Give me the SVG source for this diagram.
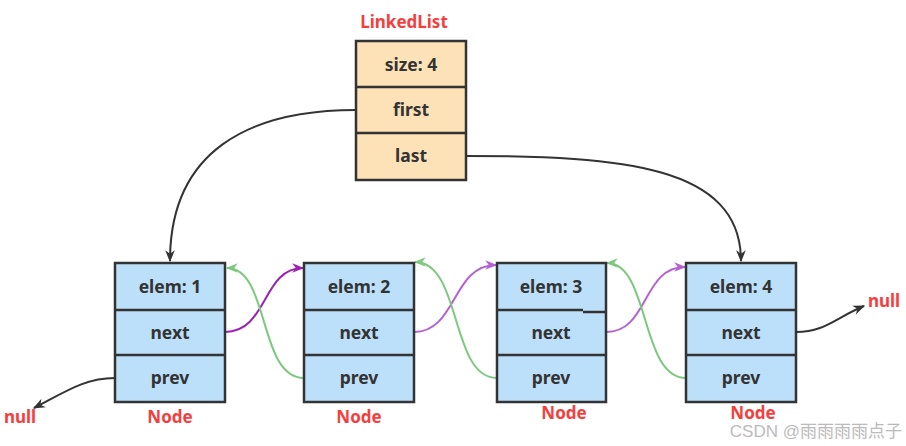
<svg xmlns="http://www.w3.org/2000/svg" width="906" height="446" viewBox="0 0 906 446">
<style>
.box{stroke:#333;stroke-width:2.5}
.ll{fill:#fde2b8}
.nd{fill:#bde0fa}
.t{font-family:"Noto Sans","Open Sans",sans-serif;font-weight:bold;font-size:17.5px;fill:#333;text-anchor:middle}
.r{font-family:"Noto Sans","Open Sans",sans-serif;font-weight:bold;font-size:17px;fill:#f53e3e;text-anchor:middle}
.c{fill:none;stroke-width:2}
.k{stroke:#333}
.p1{stroke:#9b22b5}
.p{stroke:#b561d4}
.g{stroke:#7cc87c}
</style>
<defs>
<marker id="ak" viewBox="0 0 10 10" refX="9" refY="5" markerWidth="12" markerHeight="12" orient="auto" markerUnits="userSpaceOnUse"><path d="M0,1L10,5L0,9L3,5z" fill="#333"/></marker>
<marker id="ap1" viewBox="0 0 10 10" refX="9" refY="5" markerWidth="12" markerHeight="12" orient="auto" markerUnits="userSpaceOnUse"><path d="M0,1L10,5L0,9L3,5z" fill="#9b22b5"/></marker>
<marker id="ap" viewBox="0 0 10 10" refX="9" refY="5" markerWidth="12" markerHeight="12" orient="auto" markerUnits="userSpaceOnUse"><path d="M0,1L10,5L0,9L3,5z" fill="#b561d4"/></marker>
<marker id="ag" viewBox="0 0 10 10" refX="9" refY="5" markerWidth="12" markerHeight="12" orient="auto" markerUnits="userSpaceOnUse"><path d="M0,1L10,5L0,9L3,5z" fill="#7cc87c"/></marker>
</defs>
<rect width="906" height="446" fill="#fff"/>
<g id="connectors">
<path class="c k" d="M356,110 C250,110 170,150 170,261" marker-end="url(#ak)"/>
<path class="c k" d="M466,156 C620,156 741,165 741,261" marker-end="url(#ak)"/>
<path class="c p1" d="M225,332 C268,332 262,268 303,268" marker-end="url(#ap1)"/>
<path class="c g" d="M304,378 C258,378 270,268 227,268" marker-end="url(#ag)"/>
<path class="c p" d="M414,332 C457,332 452,265 496,265" marker-end="url(#ap)"/>
<path class="c g" d="M497,378 C450,378 462,262 415,262" marker-end="url(#ag)"/>
<path class="c p" d="M606,332 C649,332 642,267 685,267" marker-end="url(#ap)"/>
<path class="c g" d="M686,378 C640,378 650,263 607,263" marker-end="url(#ag)"/>
<path class="c k" d="M796,332 C825,332 835,318 864,306" marker-end="url(#ak)"/>
<path class="c k" d="M115,378 C85,378 65,392 34,408" marker-end="url(#ak)"/>
</g>
<g id="linkedlist">
<text class="r" x="404" y="28">LinkedList</text>
<rect class="box ll" x="356" y="41" width="110" height="139"/>
<line class="box" x1="356" y1="87" x2="466" y2="87"/>
<line class="box" x1="356" y1="133" x2="466" y2="133"/>
<text class="t" x="411" y="71">size: 4</text>
<text class="t" x="411" y="116">first</text>
<text class="t" x="411" y="162">last</text>
</g>
<g id="node1">
<rect class="box nd" x="115" y="263" width="110" height="139"/>
<line class="box" x1="115" y1="310" x2="225" y2="310"/>
<line class="box" x1="115" y1="355" x2="225" y2="355"/>
<text class="t" x="170" y="293">elem: 1</text>
<text class="t" x="170" y="339">next</text>
<text class="t" x="170" y="384">prev</text>
<text class="r" x="170" y="423">Node</text>
</g>
<g id="node2">
<rect class="box nd" x="304" y="263" width="110" height="139"/>
<line class="box" x1="304" y1="310" x2="414" y2="310"/>
<line class="box" x1="304" y1="355" x2="414" y2="355"/>
<text class="t" x="359" y="293">elem: 2</text>
<text class="t" x="359" y="339">next</text>
<text class="t" x="359" y="384">prev</text>
<text class="r" x="359" y="423">Node</text>
</g>
<g id="node3">
<rect class="box nd" x="497" y="263" width="109" height="139"/>
<line class="box" x1="497" y1="310" x2="583" y2="310"/>
<line class="box" x1="583" y1="312" x2="606" y2="312"/>
<line class="box" x1="497" y1="355" x2="606" y2="355"/>
<text class="t" x="551" y="293">elem: 3</text>
<text class="t" x="551" y="339">next</text>
<text class="t" x="551" y="384">prev</text>
<text class="r" x="564" y="419">Node</text>
</g>
<g id="node4">
<rect class="box nd" x="686" y="263" width="110" height="139"/>
<line class="box" x1="686" y1="310" x2="796" y2="310"/>
<line class="box" x1="686" y1="355" x2="796" y2="355"/>
<text class="t" x="741" y="293">elem: 4</text>
<text class="t" x="741" y="339">next</text>
<text class="t" x="741" y="384">prev</text>
<text class="r" x="753" y="419">Node</text>
</g>
<g id="nulls">
<text class="r" x="884" y="307">null</text>
<text class="r" x="20" y="423">null</text>
</g>
<text x="902" y="437" font-family="'Liberation Sans','Noto Sans CJK SC',sans-serif" font-size="17" fill="#bbb" text-anchor="end">CSDN @雨雨雨雨点子</text>
</svg>
